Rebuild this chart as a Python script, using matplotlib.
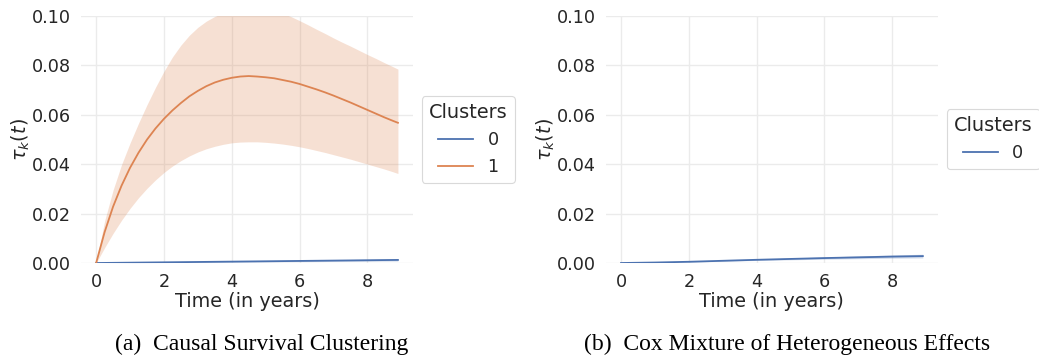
import matplotlib
matplotlib.use("Agg")
import matplotlib.pyplot as plt
import numpy as np

# ---- data ----
# cluster 1 of panel (a): mean effect with lower / upper band
time_a1 = [0, 0.25, 0.5, 0.75, 1.0, 1.25, 1.5, 1.75, 2.0, 2.25, 2.5, 2.75, 3.0, 3.25, 3.5, 3.75,
           4.0, 4.25, 4.5, 4.75, 5.0, 5.25, 5.5, 5.75, 6.0, 6.25, 6.5, 6.75, 7.0, 7.25, 7.5, 7.75,
           8.0, 8.25, 8.5, 8.75, 8.9]
a_c1_mean = [0, 0.0125, 0.0228, 0.0313, 0.0385, 0.0446, 0.0499, 0.0544, 0.0583, 0.0617, 0.0647,
             0.0674, 0.0696, 0.0715, 0.0730, 0.0741, 0.0749, 0.0754, 0.0756, 0.0754, 0.0751, 0.0747,
             0.0740, 0.0733, 0.0724, 0.0713, 0.0702, 0.0690, 0.0677, 0.0663, 0.0649, 0.0634, 0.0619,
             0.0604, 0.0589, 0.0575, 0.0567]
a_c1_low = [0, 0.0062, 0.0120, 0.0173, 0.0221, 0.0264, 0.0302, 0.0336, 0.0366, 0.0392, 0.0414,
            0.0433, 0.0449, 0.0462, 0.0472, 0.0480, 0.0486, 0.0489, 0.0490, 0.0490, 0.0488, 0.0485,
            0.0481, 0.0476, 0.0470, 0.0463, 0.0455, 0.0447, 0.0438, 0.0429, 0.0420, 0.0410, 0.0400,
            0.0390, 0.0380, 0.0369, 0.0362]
a_c1_high = [0, 0.0170, 0.0295, 0.0398, 0.0485, 0.0565, 0.0640, 0.0710, 0.0775, 0.0833, 0.0881,
             0.0921, 0.0953, 0.0978, 0.0997, 0.1011, 0.1020, 0.1026, 0.1028, 0.1029, 0.1026, 0.1020,
             0.1010, 0.0996, 0.0980, 0.0963, 0.0945, 0.0928, 0.0910, 0.0893, 0.0877, 0.0860, 0.0843,
             0.0827, 0.0810, 0.0794, 0.0784]

# cluster 0 curves (both panels)
time_c0 = [0, 1, 2, 3, 4, 5, 6, 7, 8, 8.9]
a_c0_mean = [0, 0.00014, 0.00028, 0.00042, 0.00056, 0.0007, 0.00084, 0.00098, 0.00112, 0.00125]
a_c0_half = [0, 0.00005, 0.0001, 0.00015, 0.0002, 0.00025, 0.0003, 0.00035, 0.0004, 0.00045]
b_c0_mean = [0, 0.0002, 0.0005, 0.0009, 0.0013, 0.00165, 0.002, 0.0023, 0.0026, 0.0028]
b_c0_half = [0, 0.00003, 0.00008, 0.00015, 0.00025, 0.00035, 0.00045, 0.00055, 0.00065, 0.00075]

x_ticks = [0, 2, 4, 6, 8]
y_ticks = [0.00, 0.02, 0.04, 0.06, 0.08, 0.10]
captions = ["(a)  Causal Survival Clustering", "(b)  Cox Mixture of Heterogeneous Effects"]

BLUE = "#4c72b0"
ORANGE = "#dd8452"
TICK_FS = 12.7
LABEL_FS = 13.85
TXT = "#262626"

plt.rcParams["font.family"] = "DejaVu Sans"
plt.rcParams["mathtext.fontset"] = "dejavusans"

fig = plt.figure(figsize=(10.39, 3.6), dpi=100)
ax1 = fig.add_axes([0.078, 0.2694, 0.3195, 0.687])
ax2 = fig.add_axes([0.5832, 0.2694, 0.3195, 0.687])


def style(ax):
    ax.set_ylim(0, 0.1)
    ax.set_xlim(-0.445, 9.345)
    ax.set_xticks(x_ticks)
    ax.set_yticks(y_ticks)
    ax.set_yticklabels([f"{v:.2f}" for v in y_ticks])
    for s in ax.spines.values():
        s.set_visible(False)
    ax.grid(True, color="#ebebeb", linewidth=1.0)
    ax.set_axisbelow(True)
    ax.tick_params(length=0, labelsize=TICK_FS, pad=7, colors=TXT)
    ax.set_xlabel("Time (in years)", fontsize=LABEL_FS, labelpad=1, color=TXT)
    ax.set_ylabel(r"$\tau_k(t)$", fontsize=LABEL_FS, labelpad=0, color=TXT)


def band(ax, t, low, high, mean, color, label):
    ax.fill_between(t, low, high, color=color, alpha=0.25, linewidth=0)
    ax.plot(t, mean, color=color, lw=1.3, label=label)


# panel (a)
a0m, a0h = np.asarray(a_c0_mean), np.asarray(a_c0_half)
band(ax1, time_c0, a0m - a0h, a0m + a0h, a0m, BLUE, "0")
band(ax1, time_a1, a_c1_low, a_c1_high, a_c1_mean, ORANGE, "1")
style(ax1)

# panel (b)
b0m, b0h = np.asarray(b_c0_mean), np.asarray(b_c0_half)
band(ax2, time_c0, b0m - b0h, b0m + b0h, b0m, BLUE, "0")
style(ax2)

for ax in (ax1, ax2):
    leg = ax.legend(title="Clusters", loc="center left", bbox_to_anchor=(1.0, 0.5),
                    fontsize=TICK_FS, title_fontsize=LABEL_FS, frameon=True, fancybox=True)
    leg.get_frame().set_edgecolor("#d0d0d0")
    leg.get_frame().set_linewidth(0.8)
    for t in leg.get_texts():
        t.set_color(TXT)
    leg.get_title().set_color(TXT)

fig.text(0.2515, 0.027, captions[0], ha="center", va="baseline",
         fontsize=17, family="Liberation Serif")
fig.text(0.758, 0.027, captions[1], ha="center", va="baseline",
         fontsize=17, family="Liberation Serif")

fig.savefig("out.png", dpi=100)
